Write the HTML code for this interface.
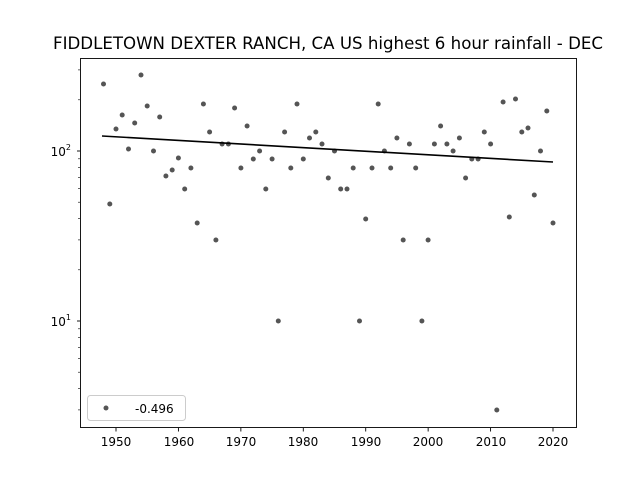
<!DOCTYPE html>
<html><head><meta charset="utf-8"><style>
body{margin:0;background:#fff;}
svg text{font-family:"DejaVu Sans","Liberation Sans",sans-serif;fill:#000;}
</style></head><body>
<svg id="s" width="640" height="480" xmlns="http://www.w3.org/2000/svg">
<rect width="640" height="480" fill="#fff"/>
<text x="328" y="49" font-size="16.5" text-anchor="middle" textLength="550" lengthAdjust="spacingAndGlyphs">FIDDLETOWN DEXTER RANCH, CA US highest 6 hour rainfall - DEC</text>
<g id="pts"></g>
<line x1="102" y1="136" x2="553" y2="162" stroke="#000" stroke-width="1.6"/>
<rect x="80.5" y="58.5" width="496" height="369" fill="none" stroke="#000" stroke-width="0.9"/>
<g id="ticks" stroke="#000" stroke-width="0.9"></g>
<g font-size="12" text-anchor="middle">
<text x="116" y="446">1950</text><text x="179" y="446">1960</text><text x="241" y="446">1970</text>
<text x="303" y="446">1980</text><text x="366" y="446">1990</text><text x="428" y="446">2000</text>
<text x="491" y="446">2010</text><text x="553" y="446">2020</text>
</g>
<g font-size="12" text-anchor="end">
<text x="71" y="156">10<tspan font-size="8" dy="-6">2</tspan></text>
<text x="71" y="326">10<tspan font-size="8" dy="-6">1</tspan></text>
</g>
<rect x="87.5" y="395.5" width="98" height="25" rx="3" fill="#fff" stroke="#ccc"/>
<circle cx="106" cy="408" r="2.5" fill="#555"/>
<text x="135" y="413" font-size="12">-0.496</text>
</svg>
<script>
var ys=[84,204,129,115,149,123,75,106,151,117,176,170,158,189,168,223,104,132,240,144,144,108,168,126,159,151,189,159,321,132,168,104,159,138,132,144,178,151,189,189,168,321,219,168,104,151,168,138,240,144,168,321,240,144,126,144,151,138,178,159,159,132,144,410,102,217,99,132,128,195,151,111,223];
var g=document.getElementById('pts'),h='';
ys.forEach(function(y,i){var x=116+(1948+i-1950)*437/70;h+='<circle cx="'+x.toFixed(1)+'" cy="'+y+'" r="2.5" fill="#555"/>';});
g.innerHTML=h;
var t='';
for(var yr=1950;yr<=2020;yr+=10){var x=116+(yr-1950)*437/70;t+='<line x1="'+x+'" y1="428" x2="'+x+'" y2="431.5"/>';}
t+='<line x1="77" y1="151" x2="80" y2="151"/><line x1="77" y1="321" x2="80" y2="321"/>';
[1,10,100].forEach(function(d){for(var m=2;m<=9;m++){var y=491-170*Math.log10(m*d);if(y>58&&y<427)t+='<line x1="78" y1="'+y.toFixed(1)+'" x2="80" y2="'+y.toFixed(1)+'" stroke-width="0.6"/>';}});
document.getElementById('ticks').innerHTML=t;
</script>
</body></html>
